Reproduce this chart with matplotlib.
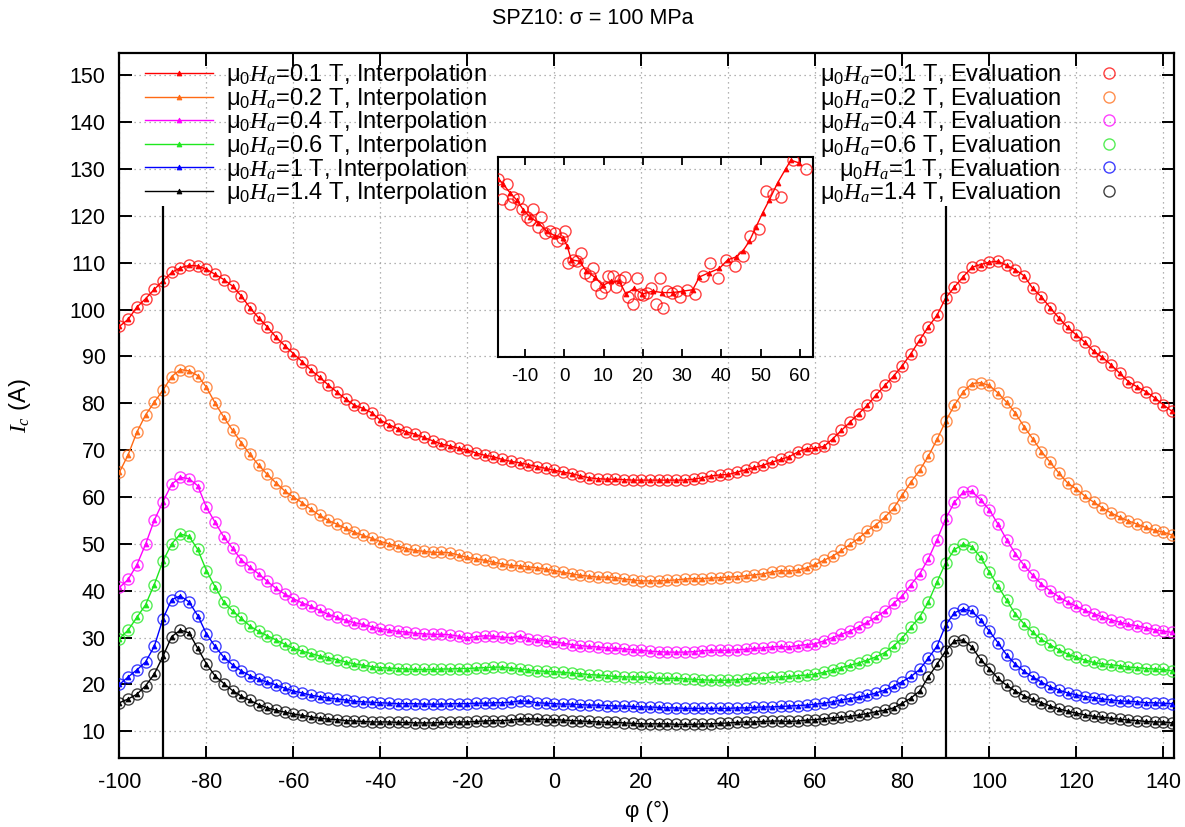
import numpy as np
import matplotlib
matplotlib.use("Agg")
import matplotlib.pyplot as plt

plt.rcParams['font.family'] = ['Liberation Sans', 'DejaVu Sans']
plt.rcParams['mathtext.fontset'] = 'custom'
plt.rcParams['mathtext.it'] = 'Liberation Serif:italic'
plt.rcParams['mathtext.rm'] = 'Liberation Sans'
plt.rcParams['axes.unicode_minus'] = False

# ---------------- data ----------------
phi = np.arange(-100, 143, 2)  # angle (deg)

ic_01 = [96.4, 97.9, 100.5, 102.3, 104.3, 106.1, 107.9, 108.9, 109.4, 109.3,
         108.6, 107.5, 106.4, 105.0, 102.9, 100.4, 98.2, 96.3, 94.1, 92.3,
         90.6, 88.9, 87.1, 85.6, 83.9, 82.4, 80.9, 79.6, 78.9, 78.0,
         76.4, 75.4, 74.6, 73.9, 73.4, 72.7, 72.0, 71.3, 70.9, 70.4,
         70.0, 69.4, 68.9, 68.6, 68.0, 67.6, 67.3, 66.9, 66.5, 66.1,
         65.7, 65.3, 65.0, 64.5, 64.1, 63.9, 63.8, 63.8, 63.7, 63.6,
         63.6, 63.6, 63.6, 63.6, 63.6, 63.6, 63.8, 64.1, 64.5, 64.7,
         64.8, 65.3, 65.8, 66.3, 66.8, 67.4, 68.0, 68.6, 69.6, 70.3,
         70.4, 70.8, 72.4, 74.2, 76.0, 77.8, 79.6, 81.8, 83.8, 85.8,
         88.0, 90.6, 93.5, 96.3, 98.8, 102.5, 104.8, 107.0, 109.0, 109.6,
         110.1, 110.3, 109.4, 108.5, 107.2, 104.5, 102.7, 100.4, 98.2, 96.2,
         94.6, 93.0, 91.1, 89.8, 88.2, 86.4, 84.6, 83.5, 82.5, 81.2,
         79.7, 78.3]

ic_02 = [65.3, 69.0, 73.8, 77.5, 80.2, 82.8, 85.7, 87.2, 86.9, 85.9,
         83.4, 80.0, 77.0, 74.2, 71.6, 69.1, 66.8, 64.8, 63.0, 61.3,
         60.0, 58.8, 57.4, 56.1, 55.0, 54.2, 53.3, 52.5, 51.8, 51.2,
         50.5, 50.0, 49.5, 49.0, 48.6, 48.4, 48.2, 48.2, 48.1, 47.6,
         47.1, 46.8, 46.5, 46.1, 45.7, 45.4, 45.3, 45.1, 44.9, 44.6,
         44.3, 43.9, 43.6, 43.3, 43.1, 42.9, 42.9, 42.8, 42.5, 42.3,
         42.1, 42.1, 42.1, 42.2, 42.3, 42.5, 42.6, 42.6, 42.7, 42.8,
         42.9, 43.0, 43.2, 43.4, 43.6, 44.0, 44.3, 44.2, 44.4, 44.9,
         45.6, 46.5, 47.4, 48.6, 49.9, 51.2, 52.8, 54.1, 55.7, 57.6,
         60.4, 63.2, 65.7, 68.7, 72.3, 76.2, 79.6, 82.4, 84.2, 84.4,
         83.8, 82.2, 80.2, 77.9, 75.0, 72.4, 69.7, 67.4, 65.1, 63.0,
         61.7, 60.2, 58.9, 57.7, 56.6, 55.7, 54.9, 54.2, 53.5, 52.9,
         52.5, 51.9]

ic_04 = [40.7, 42.4, 45.5, 49.9, 55.0, 59.0, 62.7, 64.2, 63.9, 62.4,
         57.8, 54.6, 51.5, 49.1, 46.6, 45.0, 43.6, 42.0, 40.5, 39.3,
         38.3, 37.4, 36.7, 35.8, 35.0, 34.3, 33.7, 33.2, 32.8, 32.3,
         31.9, 31.6, 31.3, 31.2, 30.9, 30.8, 30.7, 30.7, 30.6, 30.3,
         29.9, 30.2, 30.4, 30.3, 30.1, 30.0, 30.3, 29.8, 29.5, 29.3,
         29.1, 28.8, 28.5, 28.3, 28.1, 28.0, 27.8, 27.7, 27.6, 27.4,
         27.3, 27.1, 27.0, 26.9, 26.9, 26.9, 27.0, 27.2, 27.3, 27.3,
         27.3, 27.4, 27.5, 27.7, 27.8, 28.0, 28.1, 28.0, 28.3, 28.5,
         28.7, 29.3, 30.0, 30.7, 31.4, 32.3, 33.3, 34.4, 35.7, 37.3,
         38.9, 41.3, 43.6, 46.8, 50.9, 55.4, 58.9, 61.0, 61.2, 59.4,
         57.3, 54.2, 50.9, 47.9, 45.4, 43.3, 41.4, 40.0, 38.7, 37.6,
         36.7, 35.8, 35.1, 34.4, 33.8, 33.3, 32.8, 32.5, 32.1, 31.7,
         31.4, 31.1]

ic_06 = [29.8, 31.6, 34.3, 37.0, 41.3, 46.3, 50.0, 52.1, 51.6, 48.8,
         44.3, 40.8, 37.6, 35.7, 34.1, 32.5, 31.3, 30.4, 29.5, 28.6,
         27.7, 27.1, 26.6, 26.1, 25.7, 25.3, 24.8, 24.4, 24.1, 23.8,
         23.6, 23.5, 23.4, 23.3, 23.2, 23.2, 23.2, 23.3, 23.3, 23.4,
         23.4, 23.5, 23.6, 23.7, 23.7, 23.5, 23.3, 23.1, 22.9, 22.8,
         22.7, 22.6, 22.4, 22.3, 22.1, 22.0, 21.9, 21.7, 21.6, 21.6,
         21.6, 21.5, 21.3, 21.3, 21.3, 21.2, 21.1, 21.0, 20.9, 20.9,
         20.9, 21.0, 21.2, 21.3, 21.4, 21.5, 21.6, 21.7, 21.9, 22.0,
         22.2, 22.6, 23.1, 23.6, 24.1, 24.6, 25.2, 25.9, 26.8, 28.2,
         29.9, 32.2, 34.4, 37.6, 41.9, 46.0, 48.8, 49.9, 49.4, 47.1,
         44.0, 41.0, 38.0, 35.0, 32.9, 31.1, 29.6, 28.5, 27.4, 26.5,
         25.8, 25.2, 24.7, 24.4, 24.2, 24.0, 23.7, 23.6, 23.4, 23.3,
         23.2, 22.9]

ic_10 = [20.0, 21.6, 23.1, 24.8, 28.1, 34.0, 38.1, 38.9, 37.6, 34.7,
         30.8, 28.1, 25.8, 24.2, 22.9, 21.9, 21.1, 20.5, 19.9, 19.2,
         18.6, 18.2, 17.7, 17.4, 17.1, 16.9, 16.7, 16.4, 16.3, 16.2,
         16.1, 16.0, 15.9, 15.9, 15.9, 15.8, 15.8, 15.8, 15.9, 15.9,
         15.9, 16.0, 16.0, 16.1, 16.1, 16.2, 16.5, 16.4, 16.1, 16.0,
         15.9, 15.8, 15.8, 15.7, 15.6, 15.6, 15.5, 15.4, 15.4, 15.3,
         15.2, 15.2, 15.1, 15.0, 15.0, 14.9, 14.9, 14.9, 14.9, 14.9,
         14.9, 15.0, 15.0, 15.1, 15.2, 15.2, 15.3, 15.4, 15.5, 15.6,
         15.8, 16.0, 16.3, 16.7, 17.0, 17.3, 17.7, 18.2, 18.8, 19.6,
         20.6, 21.7, 23.2, 25.6, 28.2, 32.7, 35.3, 36.1, 35.6, 33.8,
         31.4, 28.9, 26.3, 24.3, 22.8, 21.6, 20.5, 19.5, 18.8, 18.2,
         17.8, 17.4, 17.2, 16.9, 16.7, 16.5, 16.4, 16.3, 16.1, 16.1,
         16.0, 15.9]

ic_14 = [16.1, 16.9, 17.9, 19.7, 22.2, 26.0, 30.2, 31.6, 31.0, 27.7,
         24.4, 21.8, 20.2, 18.7, 17.5, 16.6, 15.7, 15.0, 14.5, 14.1,
         13.7, 13.4, 13.1, 12.8, 12.6, 12.5, 12.3, 12.2, 12.1, 12.0,
         12.0, 12.0, 11.9, 11.9, 11.8, 11.8, 11.8, 11.9, 11.9, 12.0,
         12.0, 12.1, 12.2, 12.3, 12.3, 12.4, 12.6, 12.7, 12.6, 12.5,
         12.5, 12.4, 12.3, 12.2, 12.1, 12.0, 11.9, 11.9, 11.8, 11.7,
         11.6, 11.6, 11.6, 11.6, 11.5, 11.5, 11.5, 11.6, 11.6, 11.7,
         11.8, 11.9, 12.0, 12.0, 12.1, 12.2, 12.2, 12.1, 12.2, 12.4,
         12.5, 12.7, 12.9, 13.0, 13.2, 13.5, 13.8, 14.2, 14.5, 15.0,
         16.0, 17.1, 18.6, 21.6, 24.3, 27.2, 29.3, 29.5, 28.0, 25.3,
         23.4, 21.3, 19.8, 18.6, 17.6, 16.8, 16.1, 15.4, 14.8, 14.3,
         13.9, 13.5, 13.2, 13.0, 12.8, 12.6, 12.4, 12.3, 12.1, 12.0,
         12.0, 11.8]

fields = ['0.1', '0.2', '0.4', '0.6', '1', '1.4']
series = [ic_01, ic_02, ic_04, ic_06, ic_10, ic_14]
colors = ['#ff0000', '#ff6a14', '#ff00ff', '#1ee81e', '#0000ff', '#000000']

# inset (zoom on 0.1 T)
ins_eval_x = [-16.8, -15.9, -14.7, -13.8, -13.0, -11.7, -10.8, -9.6, -8.7, -7.9,
              -6.6, -5.8, -4.9, -3.6, -2.4, -1.9, -0.7, 0.2, 1.0, 2.3,
              3.3, 4.2, 5.3, 6.5, 7.4, 8.2, 9.3, 10.4, 11.2, 12.5,
              13.2, 14.2, 15.5, 16.3, 17.4, 18.4, 19.3, 20.1, 21.0, 22.2,
              23.3, 24.4, 25.2, 26.1, 27.3, 28.6, 29.5, 31.2, 33.3, 35.2,
              37.1, 39.2, 41.3, 43.5, 45.6, 47.4, 49.6, 51.3, 53.2, 55.3,
              58.3, 61.5]
ins_eval_y = [71.5, 70.1, 71.1, 69.7, 70.2, 70.1, 69.4, 68.8, 68.6, 69.4,
              68.1, 68.8, 67.7, 67.8, 67.7, 67.1, 67.3, 67.8, 65.6, 65.8,
              65.7, 66.3, 64.9, 64.7, 65.2, 64.0, 63.5, 63.9, 64.7, 64.7,
              63.9, 64.4, 64.6, 63.2, 62.7, 64.5, 63.4, 63.3, 63.5, 63.8,
              62.7, 64.5, 62.4, 63.6, 63.5, 63.6, 63.2, 63.7, 63.4, 64.7,
              65.6, 64.5, 65.8, 65.4, 66.1, 67.5, 68.0, 70.6, 70.4, 70.2,
              72.8, 72.2]
ins_int_x = [-16.8, -15.5, -13.8, -12.1, -10.4, -8.7, -6.6, -4.5, -2.4, -0.3,
             0.7, 1.8, 3.9, 5.6, 7.7, 9.8, 11.9, 14.0, 15.7, 17.8,
             19.9, 22.5, 25.0, 27.6, 30.1, 32.7, 34.4, 36.9, 39.5, 41.6,
             43.7, 45.4, 47.1, 48.8, 50.5, 52.2, 54.3, 56.4, 57.7, 59.8]
ins_int_y = [71.5, 71.1, 70.5, 70.0, 69.3, 68.8, 68.4, 67.8, 67.5, 67.3,
             66.8, 65.8, 65.7, 65.0, 64.6, 64.0, 64.3, 64.3, 63.4, 63.8,
             63.4, 63.6, 63.5, 63.5, 63.6, 63.7, 64.6, 64.9, 65.2, 65.8,
             66.0, 66.4, 67.1, 68.1, 69.1, 70.0, 71.2, 72.2, 72.8, 72.6]

xticks = list(range(-100, 141, 20))
yticks = list(range(10, 151, 10))
ins_xticks = list(range(-10, 61, 10))

# ---------------- figure ----------------
fig = plt.figure(figsize=(11.85, 8.27), dpi=100)
ax = fig.add_axes([0.1008, 0.0834, 0.8900, 0.8529])

handles_int = []
handles_eval = []
for f, ys, c in zip(fields, series, colors):
    ln, = ax.plot(phi, ys, color=c, lw=1.0, marker='^', ms=3.5, mew=0.6,
                  mfc=c, mec=c, zorder=3)
    pt, = ax.plot(phi, ys, ls='none', marker='o', ms=8, mfc='none', mec=c,
                  mew=1.0, alpha=0.75, zorder=4)
    handles_int.append(ln)
    handles_eval.append(pt)

ax.vlines([-90, 90], 0, 122, colors='black', lw=1.6, zorder=5)

ax.set_xlim(-100, 142.5)
ax.set_ylim(4.3, 154.8)
ax.set_xticks(xticks)
ax.set_yticks(yticks)
ax.tick_params(direction='in', length=9, width=1.4, labelsize=15.5,
               top=True, right=True, pad=10)
ax.grid(True, linestyle=(0, (1, 3)), color='#9a9a9a', linewidth=0.9)
ax.set_axisbelow(True)
for s in ax.spines.values():
    s.set_linewidth(1.6)

ax.set_xlabel('φ (°)', fontsize=16, labelpad=6)
ax.set_ylabel(r'$I_c$ (A)', fontsize=17, labelpad=26)
fig.text(0.5, 0.978, 'SPZ10: σ = 100 MPa', ha='center', va='center', fontsize=15.5)

lab_int = [r'μ$_{\mathit{0}}H_a$=' + f + ' T, Interpolation' for f in fields]
lab_eval = [r'μ$_{\mathit{0}}H_a$=' + f + ' T, Evaluation' for f in fields]

leg1 = ax.legend(handles_int, lab_int, loc='upper left',
                 bbox_to_anchor=(0.024, 0.9865), frameon=False, fontsize=17,
                 handlelength=2.9, handletextpad=0.55, labelspacing=-0.1,
                 borderaxespad=0, borderpad=0)
ax.add_artist(leg1)
leg2 = ax.legend(handles_eval, lab_eval, loc='upper right',
                 bbox_to_anchor=(0.955, 0.9865), frameon=False, fontsize=17,
                 markerfirst=False, handlelength=1.5, handletextpad=1.3,
                 labelspacing=-0.1, borderaxespad=0, borderpad=0)

# ---------------- inset ----------------
ins = fig.add_axes([0.4205, 0.5687, 0.2655, 0.2411])
ins.patch.set_alpha(0)
ins.plot(ins_int_x, ins_int_y, color='#ff0000', lw=1.0, marker='^', ms=3.5,
         mew=0.6, zorder=3)
ins.plot(ins_eval_x, ins_eval_y, ls='none', marker='o', ms=8, mfc='none',
         mec='#ff0000', mew=1.0, alpha=0.75, zorder=4)
ins.set_xlim(-16.8, 63.3)
ins.set_ylim(59, 73)
ins.set_xticks(ins_xticks)
ins.set_yticks([])
ins.tick_params(axis='x', direction='in', length=6, width=1.3, labelsize=13.5,
                top=True, pad=8)
for s in ins.spines.values():
    s.set_linewidth(1.5)

fig.savefig('out.png', dpi=100)
